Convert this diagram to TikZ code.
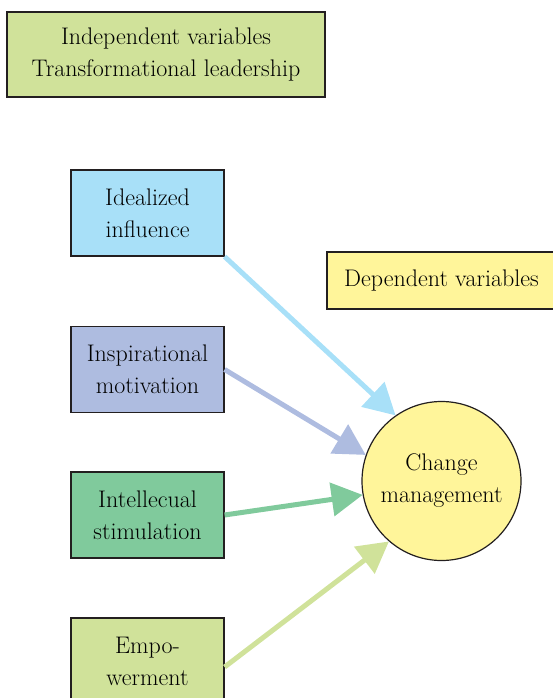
\documentclass[tikz,border=0pt]{standalone}
\usepackage{fontspec}
\usepackage{tikz}
\usepackage{xcolor}
\usetikzlibrary{positioning,arrows.meta}

\definecolor{idealblue}{HTML}{A8E0F8}
\definecolor{inspblue}{HTML}{AEBCE0}
\definecolor{intelgreen}{HTML}{80CA9C}
\definecolor{empogreen}{HTML}{D0E29A}
\definecolor{depyellow}{HTML}{FFF59A}
\definecolor{inkgray}{HTML}{231F20}

\begin{document}
\begin{tikzpicture}[x=1pt,y=-1pt,
box/.style={draw=inkgray,line width=1.2pt,rectangle,inner sep=0pt,align=center,
  text=black,font=\fontsize{24}{32}\selectfont},
var/.style={box,minimum width=153pt,minimum height=86pt},
link/.style={line width=5pt,-{Triangle[length=31pt,width=33pt]}}]
\useasboundingbox (0,0) rectangle (552,698);
% independent side
\node (indep) [box,fill=empogreen,minimum width=318pt,minimum height=85pt]
    at (166,54.5) {Independent variables\\Transformational leadership};
\node (ideal) [var,fill=idealblue] at (147.5,213) {Idealized\\influence};
\node (insp) [var,fill=inspblue] at (147.5,369.5) {Inspirational\\motivation};
\node (intel) [var,fill=intelgreen] at (147.5,515) {Intellecual\\stimulation};
\node (empo) [var,fill=empogreen] at (147.5,661) {Empo-\\werment};
% dependent side
\node (dep) [box,fill=depyellow,minimum width=229pt,minimum height=57pt]
    at (441.5,280.5) {Dependent variables};
\node (change) [box,circle,fill=depyellow,minimum size=159pt]
    at (441.5,481) {Change\\management};
% arrows
\draw [link,idealblue] (ideal.south east) -- (change.125);
\draw [link,inspblue] (insp.east) -- (change.161);
\draw [link,intelgreen] (intel.east) -- (change.190);
\draw [link,empogreen] ([yshift=-6pt]empo.east) -- (change.229);
\end{tikzpicture}
\end{document}
